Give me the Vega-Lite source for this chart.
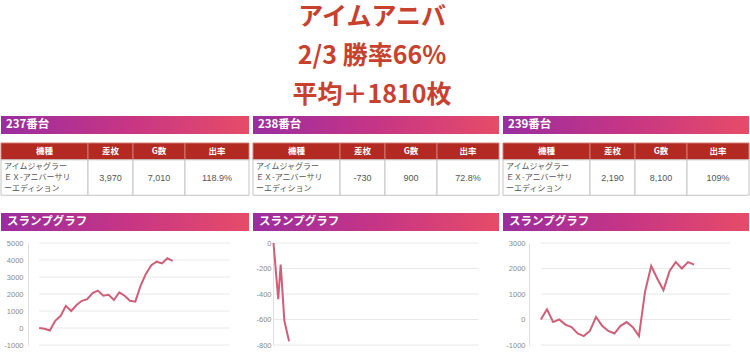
{
  "$schema": "https://vega.github.io/schema/vega-lite/v6.json",
  "padding": 0,
  "background": "white",
  "config": {"view": {"stroke": null}},
  "datasets": {
    "titles": [
      {"order": 1, "text": "アイムアニバ"},
      {"order": 2, "text": "2/3 勝率66%"},
      {"order": 3, "text": "平均＋1810枚"}
    ],
    "machines": [
      {"unit": "237", "label": "237番台", "name": "アイムジャグラー\nＥＸ-アニバーサリ\nーエディション", "diff": "3,970", "games": "7,010", "rate": "118.9%"},
      {"unit": "238", "label": "238番台", "name": "アイムジャグラー\nＥＸ-アニバーサリ\nーエディション", "diff": "-730", "games": "900", "rate": "72.8%"},
      {"unit": "239", "label": "239番台", "name": "アイムジャグラー\nＥＸ-アニバーサリ\nーエディション", "diff": "2,190", "games": "8,100", "rate": "109%"}
    ],
    "grid": [
      {"unit": "237", "v": -1000}, {"unit": "237", "v": 0}, {"unit": "237", "v": 1000}, {"unit": "237", "v": 2000}, {"unit": "237", "v": 3000}, {"unit": "237", "v": 4000}, {"unit": "237", "v": 5000},
      {"unit": "238", "v": -800}, {"unit": "238", "v": -600}, {"unit": "238", "v": -400}, {"unit": "238", "v": -200}, {"unit": "238", "v": 0},
      {"unit": "239", "v": -1000}, {"unit": "239", "v": 0}, {"unit": "239", "v": 1000}, {"unit": "239", "v": 2000}, {"unit": "239", "v": 3000}
    ],
    "slump": [
      {"unit": "237", "g": 0, "v": 0}, {"unit": "237", "g": 280, "v": -50}, {"unit": "237", "g": 560, "v": -150}, {"unit": "237", "g": 840, "v": 420}, {"unit": "237", "g": 1120, "v": 700}, {"unit": "237", "g": 1400, "v": 1300}, {"unit": "237", "g": 1680, "v": 1000}, {"unit": "237", "g": 1960, "v": 1350}, {"unit": "237", "g": 2240, "v": 1600}, {"unit": "237", "g": 2520, "v": 1700}, {"unit": "237", "g": 2800, "v": 2050}, {"unit": "237", "g": 3080, "v": 2200}, {"unit": "237", "g": 3360, "v": 1900}, {"unit": "237", "g": 3640, "v": 1950}, {"unit": "237", "g": 3920, "v": 1650}, {"unit": "237", "g": 4200, "v": 2100}, {"unit": "237", "g": 4480, "v": 1900}, {"unit": "237", "g": 4760, "v": 1600}, {"unit": "237", "g": 5040, "v": 1550}, {"unit": "237", "g": 5320, "v": 2500}, {"unit": "237", "g": 5600, "v": 3200}, {"unit": "237", "g": 5880, "v": 3700}, {"unit": "237", "g": 6160, "v": 3900}, {"unit": "237", "g": 6440, "v": 3800}, {"unit": "237", "g": 6720, "v": 4100}, {"unit": "237", "g": 7000, "v": 3950},
      {"unit": "238", "g": 0, "v": 0}, {"unit": "238", "g": 230, "v": -440}, {"unit": "238", "g": 350, "v": -170}, {"unit": "238", "g": 530, "v": -610}, {"unit": "238", "g": 760, "v": -770},
      {"unit": "239", "g": 0, "v": 0}, {"unit": "239", "g": 324, "v": 400}, {"unit": "239", "g": 648, "v": -100}, {"unit": "239", "g": 972, "v": 0}, {"unit": "239", "g": 1296, "v": -200}, {"unit": "239", "g": 1620, "v": -300}, {"unit": "239", "g": 1944, "v": -550}, {"unit": "239", "g": 2268, "v": -650}, {"unit": "239", "g": 2592, "v": -450}, {"unit": "239", "g": 2916, "v": 100}, {"unit": "239", "g": 3240, "v": -250}, {"unit": "239", "g": 3564, "v": -450}, {"unit": "239", "g": 3888, "v": -550}, {"unit": "239", "g": 4212, "v": -250}, {"unit": "239", "g": 4536, "v": -100}, {"unit": "239", "g": 4860, "v": -300}, {"unit": "239", "g": 5184, "v": -650}, {"unit": "239", "g": 5508, "v": 1100}, {"unit": "239", "g": 5832, "v": 2100}, {"unit": "239", "g": 6156, "v": 1600}, {"unit": "239", "g": 6480, "v": 1150}, {"unit": "239", "g": 6804, "v": 1900}, {"unit": "239", "g": 7128, "v": 2250}, {"unit": "239", "g": 7452, "v": 2000}, {"unit": "239", "g": 7776, "v": 2250}, {"unit": "239", "g": 8100, "v": 2150}
    ]
  },
  "spacing": 4,
  "vconcat": [
    {
      "width": 750, "height": 112,
      "data": {"name": "titles"},
      "mark": {"type": "text", "color": "#c8412f", "fontSize": 25, "fontWeight": "bold", "font": "Noto Sans CJK JP", "dx": -4},
      "encoding": {
        "y": {"field": "order", "type": "ordinal", "scale": {"type": "point", "padding": 0.45}, "axis": null},
        "text": {"field": "text"}
      }
    },
    {
      "spacing": 2,
      "hconcat": [
        {
          "data": {"name": "machines"},
          "transform": [{"filter": "datum.unit === '237'"}],
          "spacing": 8,
          "vconcat": [
            {
              "spacing": 14,
              "vconcat": [
                {
                  "spacing": 8,
                  "vconcat": [
                    {
                      "width": 248, "height": 18,
                      "layer": [
                        {"mark": {"type": "rect", "color": {"gradient": "linear", "x1": 0, "y1": 0, "x2": 1, "y2": 0, "stops": [{"offset": 0, "color": "#9a2d9f"}, {"offset": 0.5, "color": "#c63585"}, {"offset": 1, "color": "#e64c68"}]}}, "encoding": {}},
                        {"mark": {"type": "text", "align": "left", "baseline": "middle", "dx": 5, "color": "white", "fontWeight": "bold", "fontSize": 11.5, "font": "Noto Sans CJK JP"},
                         "encoding": {"x": {"datum": 0, "type": "quantitative", "scale": {"domain": [0, 1]}, "axis": null}, "text": {"field": "label"}}}
                      ]
                    },
                    {
                      "spacing": 0, "bounds": "flush",
                      "hconcat": [
                        {"width": 87, "height": 56, "layer": [
                          {"mark": {"type": "rect", "fill": "#b32a22", "stroke": "#d27a70", "strokeWidth": 1}, "encoding": {"y": {"datum": 0, "type": "quantitative", "scale": {"domain": [0, 56], "reverse": true}, "axis": null}, "y2": {"datum": 18}}},
                          {"mark": {"type": "rect", "fill": "white", "stroke": "#c4c4c4", "strokeWidth": 1}, "encoding": {"y": {"datum": 18, "type": "quantitative", "axis": null}, "y2": {"datum": 56}}},
                          {"mark": {"type": "text", "text": "機種", "color": "white", "fontSize": 8.5, "fontWeight": "bold", "font": "Noto Sans CJK JP"}, "encoding": {"y": {"datum": 9, "type": "quantitative", "axis": null}}},
                          {"mark": {"type": "text", "align": "left", "baseline": "top", "dx": 3, "color": "#555555", "fontSize": 8, "lineHeight": 11, "lineBreak": "\n", "font": "Noto Sans CJK JP"}, "encoding": {"y": {"datum": 21.5, "type": "quantitative", "axis": null}, "x": {"datum": 0, "type": "quantitative", "scale": {"domain": [0, 1]}, "axis": null}, "text": {"field": "name"}}}
                        ]},
                        {"width": 45, "height": 56, "layer": [
                          {"mark": {"type": "rect", "fill": "#b32a22", "stroke": "#d27a70", "strokeWidth": 1}, "encoding": {"y": {"datum": 0, "type": "quantitative", "scale": {"domain": [0, 56], "reverse": true}, "axis": null}, "y2": {"datum": 18}}},
                          {"mark": {"type": "rect", "fill": "white", "stroke": "#c4c4c4", "strokeWidth": 1}, "encoding": {"y": {"datum": 18, "type": "quantitative", "axis": null}, "y2": {"datum": 56}}},
                          {"mark": {"type": "text", "text": "差枚", "color": "white", "fontSize": 8.5, "fontWeight": "bold", "font": "Noto Sans CJK JP"}, "encoding": {"y": {"datum": 9, "type": "quantitative", "axis": null}}},
                          {"mark": {"type": "text", "color": "#555555", "fontSize": 9, "font": "Liberation Sans, Noto Sans CJK JP"}, "encoding": {"y": {"datum": 37, "type": "quantitative", "axis": null}, "text": {"field": "diff"}}}
                        ]},
                        {"width": 52, "height": 56, "layer": [
                          {"mark": {"type": "rect", "fill": "#b32a22", "stroke": "#d27a70", "strokeWidth": 1}, "encoding": {"y": {"datum": 0, "type": "quantitative", "scale": {"domain": [0, 56], "reverse": true}, "axis": null}, "y2": {"datum": 18}}},
                          {"mark": {"type": "rect", "fill": "white", "stroke": "#c4c4c4", "strokeWidth": 1}, "encoding": {"y": {"datum": 18, "type": "quantitative", "axis": null}, "y2": {"datum": 56}}},
                          {"mark": {"type": "text", "text": "G数", "color": "white", "fontSize": 8.5, "fontWeight": "bold", "font": "Noto Sans CJK JP"}, "encoding": {"y": {"datum": 9, "type": "quantitative", "axis": null}}},
                          {"mark": {"type": "text", "color": "#555555", "fontSize": 9, "font": "Liberation Sans, Noto Sans CJK JP"}, "encoding": {"y": {"datum": 37, "type": "quantitative", "axis": null}, "text": {"field": "games"}}}
                        ]},
                        {"width": 64, "height": 56, "layer": [
                          {"mark": {"type": "rect", "fill": "#b32a22", "stroke": "#d27a70", "strokeWidth": 1}, "encoding": {"y": {"datum": 0, "type": "quantitative", "scale": {"domain": [0, 56], "reverse": true}, "axis": null}, "y2": {"datum": 18}}},
                          {"mark": {"type": "rect", "fill": "white", "stroke": "#c4c4c4", "strokeWidth": 1}, "encoding": {"y": {"datum": 18, "type": "quantitative", "axis": null}, "y2": {"datum": 56}}},
                          {"mark": {"type": "text", "text": "出率", "color": "white", "fontSize": 8.5, "fontWeight": "bold", "font": "Noto Sans CJK JP"}, "encoding": {"y": {"datum": 9, "type": "quantitative", "axis": null}}},
                          {"mark": {"type": "text", "color": "#555555", "fontSize": 9, "font": "Liberation Sans, Noto Sans CJK JP"}, "encoding": {"y": {"datum": 37, "type": "quantitative", "axis": null}, "text": {"field": "rate"}}}
                        ]}
                      ]
                    }
                  ]
                },
                {
                  "width": 248, "height": 18,
                  "layer": [
                    {"mark": {"type": "rect", "color": {"gradient": "linear", "x1": 0, "y1": 0, "x2": 1, "y2": 0, "stops": [{"offset": 0, "color": "#9a2d9f"}, {"offset": 0.5, "color": "#c63585"}, {"offset": 1, "color": "#e64c68"}]}}, "encoding": {}},
                    {"mark": {"type": "text", "text": "スランプグラフ", "align": "left", "baseline": "middle", "dx": 6, "color": "white", "fontWeight": "bold", "fontSize": 11.5, "font": "Noto Sans CJK JP"},
                     "encoding": {"x": {"datum": 0, "type": "quantitative", "scale": {"domain": [0, 1]}, "axis": null}}}
                  ]
                }
              ]
            },
            {
              "width": 248, "height": 102,
              "data": {"name": "slump"},
              "transform": [{"filter": "datum.unit === '237'"}],
              "encoding": {
                "y": {"field": "v", "type": "quantitative", "scale": {"domain": [-1000, 5000], "nice": false, "zero": false},
                  "axis": {"values": [-1000, 0, 1000, 2000, 3000, 4000, 5000], "offset": -27, "minExtent": 0, "grid": false, "ticks": false, "domain": true, "domainColor": "#dddddd", "labelColor": "#8a8a8a", "labelFontSize": 7.5, "labelPadding": 5, "labelFont": "Liberation Sans", "labelExpr": "'' + datum.value", "title": null}}
              },
              "layer": [
                {"data": {"name": "grid"}, "transform": [{"filter": "datum.unit === '237'"}], "mark": {"type": "rule", "color": "#e8e8e8", "strokeWidth": 1},
                 "encoding": {"x": {"datum": 0, "type": "quantitative", "axis": null}, "x2": {"datum": 10000}}},
                {"mark": {"type": "line", "color": "#cf5f78", "strokeWidth": 2},
                 "encoding": {"x": {"field": "g", "type": "quantitative", "scale": {"domain": [-1343, 10995]}, "axis": null}}}
              ]
            }
          ]
        },
        {
          "data": {"name": "machines"},
          "transform": [{"filter": "datum.unit === '238'"}],
          "spacing": 8,
          "vconcat": [
            {
              "spacing": 14,
              "vconcat": [
                {
                  "spacing": 8,
                  "vconcat": [
                    {
                      "width": 246, "height": 18,
                      "layer": [
                        {"mark": {"type": "rect", "color": {"gradient": "linear", "x1": 0, "y1": 0, "x2": 1, "y2": 0, "stops": [{"offset": 0, "color": "#9a2d9f"}, {"offset": 0.5, "color": "#c63585"}, {"offset": 1, "color": "#e64c68"}]}}, "encoding": {}},
                        {"mark": {"type": "text", "align": "left", "baseline": "middle", "dx": 5, "color": "white", "fontWeight": "bold", "fontSize": 11.5, "font": "Noto Sans CJK JP"},
                         "encoding": {"x": {"datum": 0, "type": "quantitative", "scale": {"domain": [0, 1]}, "axis": null}, "text": {"field": "label"}}}
                      ]
                    },
                    {
                      "spacing": 0, "bounds": "flush",
                      "hconcat": [
                        {"width": 87, "height": 56, "layer": [
                          {"mark": {"type": "rect", "fill": "#b32a22", "stroke": "#d27a70", "strokeWidth": 1}, "encoding": {"y": {"datum": 0, "type": "quantitative", "scale": {"domain": [0, 56], "reverse": true}, "axis": null}, "y2": {"datum": 18}}},
                          {"mark": {"type": "rect", "fill": "white", "stroke": "#c4c4c4", "strokeWidth": 1}, "encoding": {"y": {"datum": 18, "type": "quantitative", "axis": null}, "y2": {"datum": 56}}},
                          {"mark": {"type": "text", "text": "機種", "color": "white", "fontSize": 8.5, "fontWeight": "bold", "font": "Noto Sans CJK JP"}, "encoding": {"y": {"datum": 9, "type": "quantitative", "axis": null}}},
                          {"mark": {"type": "text", "align": "left", "baseline": "top", "dx": 3, "color": "#555555", "fontSize": 8, "lineHeight": 11, "lineBreak": "\n", "font": "Noto Sans CJK JP"}, "encoding": {"y": {"datum": 21.5, "type": "quantitative", "axis": null}, "x": {"datum": 0, "type": "quantitative", "scale": {"domain": [0, 1]}, "axis": null}, "text": {"field": "name"}}}
                        ]},
                        {"width": 45, "height": 56, "layer": [
                          {"mark": {"type": "rect", "fill": "#b32a22", "stroke": "#d27a70", "strokeWidth": 1}, "encoding": {"y": {"datum": 0, "type": "quantitative", "scale": {"domain": [0, 56], "reverse": true}, "axis": null}, "y2": {"datum": 18}}},
                          {"mark": {"type": "rect", "fill": "white", "stroke": "#c4c4c4", "strokeWidth": 1}, "encoding": {"y": {"datum": 18, "type": "quantitative", "axis": null}, "y2": {"datum": 56}}},
                          {"mark": {"type": "text", "text": "差枚", "color": "white", "fontSize": 8.5, "fontWeight": "bold", "font": "Noto Sans CJK JP"}, "encoding": {"y": {"datum": 9, "type": "quantitative", "axis": null}}},
                          {"mark": {"type": "text", "color": "#555555", "fontSize": 9, "font": "Liberation Sans, Noto Sans CJK JP"}, "encoding": {"y": {"datum": 37, "type": "quantitative", "axis": null}, "text": {"field": "diff"}}}
                        ]},
                        {"width": 52, "height": 56, "layer": [
                          {"mark": {"type": "rect", "fill": "#b32a22", "stroke": "#d27a70", "strokeWidth": 1}, "encoding": {"y": {"datum": 0, "type": "quantitative", "scale": {"domain": [0, 56], "reverse": true}, "axis": null}, "y2": {"datum": 18}}},
                          {"mark": {"type": "rect", "fill": "white", "stroke": "#c4c4c4", "strokeWidth": 1}, "encoding": {"y": {"datum": 18, "type": "quantitative", "axis": null}, "y2": {"datum": 56}}},
                          {"mark": {"type": "text", "text": "G数", "color": "white", "fontSize": 8.5, "fontWeight": "bold", "font": "Noto Sans CJK JP"}, "encoding": {"y": {"datum": 9, "type": "quantitative", "axis": null}}},
                          {"mark": {"type": "text", "color": "#555555", "fontSize": 9, "font": "Liberation Sans, Noto Sans CJK JP"}, "encoding": {"y": {"datum": 37, "type": "quantitative", "axis": null}, "text": {"field": "games"}}}
                        ]},
                        {"width": 62, "height": 56, "layer": [
                          {"mark": {"type": "rect", "fill": "#b32a22", "stroke": "#d27a70", "strokeWidth": 1}, "encoding": {"y": {"datum": 0, "type": "quantitative", "scale": {"domain": [0, 56], "reverse": true}, "axis": null}, "y2": {"datum": 18}}},
                          {"mark": {"type": "rect", "fill": "white", "stroke": "#c4c4c4", "strokeWidth": 1}, "encoding": {"y": {"datum": 18, "type": "quantitative", "axis": null}, "y2": {"datum": 56}}},
                          {"mark": {"type": "text", "text": "出率", "color": "white", "fontSize": 8.5, "fontWeight": "bold", "font": "Noto Sans CJK JP"}, "encoding": {"y": {"datum": 9, "type": "quantitative", "axis": null}}},
                          {"mark": {"type": "text", "color": "#555555", "fontSize": 9, "font": "Liberation Sans, Noto Sans CJK JP"}, "encoding": {"y": {"datum": 37, "type": "quantitative", "axis": null}, "text": {"field": "rate"}}}
                        ]}
                      ]
                    }
                  ]
                },
                {
                  "width": 246, "height": 18,
                  "layer": [
                    {"mark": {"type": "rect", "color": {"gradient": "linear", "x1": 0, "y1": 0, "x2": 1, "y2": 0, "stops": [{"offset": 0, "color": "#9a2d9f"}, {"offset": 0.5, "color": "#c63585"}, {"offset": 1, "color": "#e64c68"}]}}, "encoding": {}},
                    {"mark": {"type": "text", "text": "スランプグラフ", "align": "left", "baseline": "middle", "dx": 6, "color": "white", "fontWeight": "bold", "fontSize": 11.5, "font": "Noto Sans CJK JP"},
                     "encoding": {"x": {"datum": 0, "type": "quantitative", "scale": {"domain": [0, 1]}, "axis": null}}}
                  ]
                }
              ]
            },
            {
              "width": 246, "height": 102,
              "data": {"name": "slump"},
              "transform": [{"filter": "datum.unit === '238'"}],
              "encoding": {
                "y": {"field": "v", "type": "quantitative", "scale": {"domain": [-800, 0], "nice": false, "zero": false},
                  "axis": {"values": [-800, -600, -400, -200, 0], "offset": -20, "minExtent": 0, "grid": false, "ticks": false, "domain": true, "domainColor": "#dddddd", "labelColor": "#8a8a8a", "labelFontSize": 7.5, "labelPadding": 2, "labelFont": "Liberation Sans", "labelExpr": "'' + datum.value", "title": null}}
              },
              "layer": [
                {"data": {"name": "grid"}, "transform": [{"filter": "datum.unit === '238'"}], "mark": {"type": "rule", "color": "#e8e8e8", "strokeWidth": 1},
                 "encoding": {"x": {"datum": 0, "type": "quantitative", "axis": null}, "x2": {"datum": 10000}}},
                {"mark": {"type": "line", "color": "#cf5f78", "strokeWidth": 2},
                 "encoding": {"x": {"field": "g", "type": "quantitative", "scale": {"domain": [-909, 10273]}, "axis": null}}}
              ]
            }
          ]
        },
        {
          "data": {"name": "machines"},
          "transform": [{"filter": "datum.unit === '239'"}],
          "spacing": 8,
          "vconcat": [
            {
              "spacing": 14,
              "vconcat": [
                {
                  "spacing": 8,
                  "vconcat": [
                    {
                      "width": 246, "height": 18,
                      "layer": [
                        {"mark": {"type": "rect", "color": {"gradient": "linear", "x1": 0, "y1": 0, "x2": 1, "y2": 0, "stops": [{"offset": 0, "color": "#9a2d9f"}, {"offset": 0.5, "color": "#c63585"}, {"offset": 1, "color": "#e64c68"}]}}, "encoding": {}},
                        {"mark": {"type": "text", "align": "left", "baseline": "middle", "dx": 5, "color": "white", "fontWeight": "bold", "fontSize": 11.5, "font": "Noto Sans CJK JP"},
                         "encoding": {"x": {"datum": 0, "type": "quantitative", "scale": {"domain": [0, 1]}, "axis": null}, "text": {"field": "label"}}}
                      ]
                    },
                    {
                      "spacing": 0, "bounds": "flush",
                      "hconcat": [
                        {"width": 87, "height": 56, "layer": [
                          {"mark": {"type": "rect", "fill": "#b32a22", "stroke": "#d27a70", "strokeWidth": 1}, "encoding": {"y": {"datum": 0, "type": "quantitative", "scale": {"domain": [0, 56], "reverse": true}, "axis": null}, "y2": {"datum": 18}}},
                          {"mark": {"type": "rect", "fill": "white", "stroke": "#c4c4c4", "strokeWidth": 1}, "encoding": {"y": {"datum": 18, "type": "quantitative", "axis": null}, "y2": {"datum": 56}}},
                          {"mark": {"type": "text", "text": "機種", "color": "white", "fontSize": 8.5, "fontWeight": "bold", "font": "Noto Sans CJK JP"}, "encoding": {"y": {"datum": 9, "type": "quantitative", "axis": null}}},
                          {"mark": {"type": "text", "align": "left", "baseline": "top", "dx": 3, "color": "#555555", "fontSize": 8, "lineHeight": 11, "lineBreak": "\n", "font": "Noto Sans CJK JP"}, "encoding": {"y": {"datum": 21.5, "type": "quantitative", "axis": null}, "x": {"datum": 0, "type": "quantitative", "scale": {"domain": [0, 1]}, "axis": null}, "text": {"field": "name"}}}
                        ]},
                        {"width": 45, "height": 56, "layer": [
                          {"mark": {"type": "rect", "fill": "#b32a22", "stroke": "#d27a70", "strokeWidth": 1}, "encoding": {"y": {"datum": 0, "type": "quantitative", "scale": {"domain": [0, 56], "reverse": true}, "axis": null}, "y2": {"datum": 18}}},
                          {"mark": {"type": "rect", "fill": "white", "stroke": "#c4c4c4", "strokeWidth": 1}, "encoding": {"y": {"datum": 18, "type": "quantitative", "axis": null}, "y2": {"datum": 56}}},
                          {"mark": {"type": "text", "text": "差枚", "color": "white", "fontSize": 8.5, "fontWeight": "bold", "font": "Noto Sans CJK JP"}, "encoding": {"y": {"datum": 9, "type": "quantitative", "axis": null}}},
                          {"mark": {"type": "text", "color": "#555555", "fontSize": 9, "font": "Liberation Sans, Noto Sans CJK JP"}, "encoding": {"y": {"datum": 37, "type": "quantitative", "axis": null}, "text": {"field": "diff"}}}
                        ]},
                        {"width": 52, "height": 56, "layer": [
                          {"mark": {"type": "rect", "fill": "#b32a22", "stroke": "#d27a70", "strokeWidth": 1}, "encoding": {"y": {"datum": 0, "type": "quantitative", "scale": {"domain": [0, 56], "reverse": true}, "axis": null}, "y2": {"datum": 18}}},
                          {"mark": {"type": "rect", "fill": "white", "stroke": "#c4c4c4", "strokeWidth": 1}, "encoding": {"y": {"datum": 18, "type": "quantitative", "axis": null}, "y2": {"datum": 56}}},
                          {"mark": {"type": "text", "text": "G数", "color": "white", "fontSize": 8.5, "fontWeight": "bold", "font": "Noto Sans CJK JP"}, "encoding": {"y": {"datum": 9, "type": "quantitative", "axis": null}}},
                          {"mark": {"type": "text", "color": "#555555", "fontSize": 9, "font": "Liberation Sans, Noto Sans CJK JP"}, "encoding": {"y": {"datum": 37, "type": "quantitative", "axis": null}, "text": {"field": "games"}}}
                        ]},
                        {"width": 62, "height": 56, "layer": [
                          {"mark": {"type": "rect", "fill": "#b32a22", "stroke": "#d27a70", "strokeWidth": 1}, "encoding": {"y": {"datum": 0, "type": "quantitative", "scale": {"domain": [0, 56], "reverse": true}, "axis": null}, "y2": {"datum": 18}}},
                          {"mark": {"type": "rect", "fill": "white", "stroke": "#c4c4c4", "strokeWidth": 1}, "encoding": {"y": {"datum": 18, "type": "quantitative", "axis": null}, "y2": {"datum": 56}}},
                          {"mark": {"type": "text", "text": "出率", "color": "white", "fontSize": 8.5, "fontWeight": "bold", "font": "Noto Sans CJK JP"}, "encoding": {"y": {"datum": 9, "type": "quantitative", "axis": null}}},
                          {"mark": {"type": "text", "color": "#555555", "fontSize": 9, "font": "Liberation Sans, Noto Sans CJK JP"}, "encoding": {"y": {"datum": 37, "type": "quantitative", "axis": null}, "text": {"field": "rate"}}}
                        ]}
                      ]
                    }
                  ]
                },
                {
                  "width": 246, "height": 18,
                  "layer": [
                    {"mark": {"type": "rect", "color": {"gradient": "linear", "x1": 0, "y1": 0, "x2": 1, "y2": 0, "stops": [{"offset": 0, "color": "#9a2d9f"}, {"offset": 0.5, "color": "#c63585"}, {"offset": 1, "color": "#e64c68"}]}}, "encoding": {}},
                    {"mark": {"type": "text", "text": "スランプグラフ", "align": "left", "baseline": "middle", "dx": 6, "color": "white", "fontWeight": "bold", "fontSize": 11.5, "font": "Noto Sans CJK JP"},
                     "encoding": {"x": {"datum": 0, "type": "quantitative", "scale": {"domain": [0, 1]}, "axis": null}}}
                  ]
                }
              ]
            },
            {
              "width": 246, "height": 102,
              "data": {"name": "slump"},
              "transform": [{"filter": "datum.unit === '239'"}],
              "encoding": {
                "y": {"field": "v", "type": "quantitative", "scale": {"domain": [-1000, 3000], "nice": false, "zero": false},
                  "axis": {"values": [-1000, 0, 1000, 2000, 3000], "offset": -26, "minExtent": 0, "grid": false, "ticks": false, "domain": true, "domainColor": "#dddddd", "labelColor": "#8a8a8a", "labelFontSize": 7.5, "labelPadding": 4, "labelFont": "Liberation Sans", "labelExpr": "'' + datum.value", "title": null}}
              },
              "layer": [
                {"data": {"name": "grid"}, "transform": [{"filter": "datum.unit === '239'"}], "mark": {"type": "rule", "color": "#e8e8e8", "strokeWidth": 1},
                 "encoding": {"x": {"datum": 0, "type": "quantitative", "axis": null}, "x2": {"datum": 10000}}},
                {"mark": {"type": "line", "color": "#cf5f78", "strokeWidth": 2},
                 "encoding": {"x": {"field": "g", "type": "quantitative", "scale": {"domain": [-1300, 11000]}, "axis": null}}}
              ]
            }
          ]
        }
      ]
    }
  ]
}
